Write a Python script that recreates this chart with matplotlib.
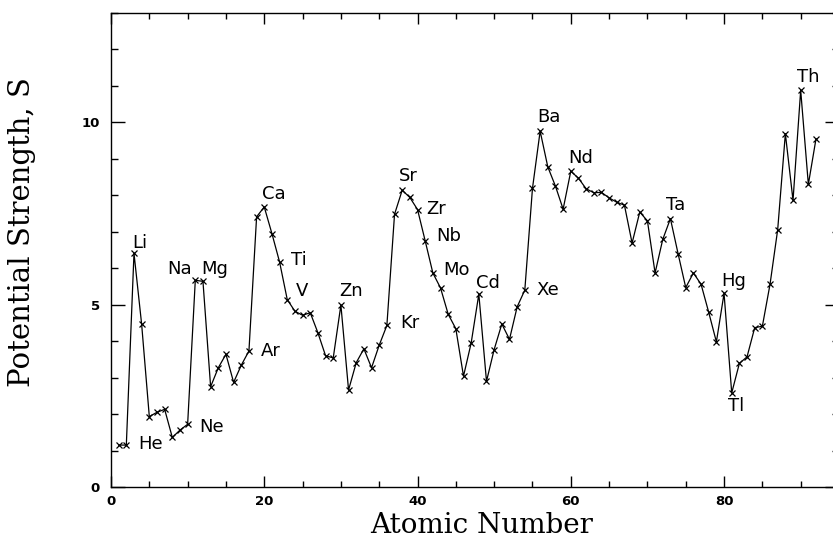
import matplotlib.pyplot as plt
from matplotlib.ticker import MultipleLocator

# atomic number and potential strength
atomic_number = list(range(1, 93))
strength = [
    1.15, 1.15, 6.41, 4.46, 1.93, 2.05, 2.13, 1.36, 1.56, 1.72,
    5.67, 5.64, 2.75, 3.27, 3.64, 2.87, 3.34, 3.73, 7.41, 7.68,
    6.95, 6.17, 5.14, 4.82, 4.71, 4.78, 4.23, 3.60, 3.54, 4.99,
    2.66, 3.41, 3.79, 3.27, 3.89, 4.43, 7.48, 8.14, 7.94, 7.61,
    6.75, 5.87, 5.46, 4.74, 4.34, 3.04, 3.95, 5.29, 2.90, 3.77,
    4.47, 4.05, 4.94, 5.40, 8.19, 9.76, 8.78, 8.25, 7.62, 8.66,
    8.47, 8.18, 8.07, 8.08, 7.93, 7.81, 7.73, 6.69, 7.54, 7.30,
    5.87, 6.79, 7.36, 6.40, 5.47, 5.87, 5.56, 4.79, 3.98, 5.31,
    2.58, 3.39, 3.57, 4.37, 4.41, 5.56, 7.06, 9.69, 7.86, 10.88,
    8.30, 9.55,
]

# labelled elements
label_names = ["He", "Li", "Ne", "Na", "Mg", "Ar", "Ca", "Ti", "V", "Zn",
               "Kr", "Sr", "Zr", "Nb", "Mo", "Cd", "Xe", "Ba", "Nd", "Ta",
               "Hg", "Tl", "Th"]
label_z = [2, 3, 10, 11, 12, 18, 20, 22, 24, 30,
           36, 38, 40, 41, 42, 48, 54, 56, 60, 73,
           80, 81, 90]

# text placement relative to the point: (dx px, dy px, ha, va)
placement = {
    "He": (12, 1, "left", "center"),
    "Li": (-2, 1, "left", "bottom"),
    "Ne": (12, -3, "left", "center"),
    "Na": (-3, 2, "right", "bottom"),
    "Mg": (-2, 3, "left", "bottom"),
    "Ar": (12, 0, "left", "center"),
    "Ca": (-2, 4, "left", "bottom"),
    "Ti": (11, 2, "left", "center"),
    "V": (1, 11, "left", "bottom"),
    "Zn": (-2, 5, "left", "bottom"),
    "Kr": (13, 2, "left", "center"),
    "Sr": (-3, 5, "left", "bottom"),
    "Zr": (9, 1, "left", "center"),
    "Nb": (11, 5, "left", "center"),
    "Mo": (10, 3, "left", "center"),
    "Cd": (-3, 2, "left", "bottom"),
    "Xe": (12, 0, "left", "center"),
    "Ba": (-3, 5, "left", "bottom"),
    "Nd": (-3, 4, "left", "bottom"),
    "Ta": (-4, 5, "left", "bottom"),
    "Hg": (-3, 3, "left", "bottom"),
    "Tl": (-4, -4, "left", "top"),
    "Th": (-4, 4, "left", "bottom"),
}

fig = plt.figure(figsize=(8.33, 5.39), dpi=100)
ax = fig.add_axes([111 / 833, 52 / 539, 728 / 833, 474 / 539])

ax.plot(atomic_number, strength, color="black", linewidth=0.9,
        marker="x", markersize=3.8, markeredgewidth=0.9)

for name, z in zip(label_names, label_z):
    dx, dy, ha, va = placement[name]
    ax.annotate(name, (z, strength[z - 1]), xytext=(dx, dy),
                textcoords="offset pixels", ha=ha, va=va,
                fontsize=13, family="DejaVu Sans", color="black")

ax.set_xlim(0, 95)
ax.set_ylim(0, 13)
ax.xaxis.set_major_locator(MultipleLocator(20))
ax.xaxis.set_minor_locator(MultipleLocator(5))
ax.yaxis.set_major_locator(MultipleLocator(5))
ax.yaxis.set_minor_locator(MultipleLocator(1))

ax.tick_params(which="both", direction="in", top=True, right=True, width=1.0)
ax.tick_params(axis="x", which="major", length=8, pad=6)
ax.tick_params(axis="x", which="minor", length=4)
ax.tick_params(axis="y", which="major", length=10, pad=8)
ax.tick_params(axis="y", which="minor", length=5)
for lab in ax.get_xticklabels() + ax.get_yticklabels():
    lab.set_family("DejaVu Sans")
    lab.set_fontweight("bold")
    lab.set_fontsize(9.5)
for sp in ax.spines.values():
    sp.set_linewidth(1.0)

fig.text(482 / 833, 1 - 533 / 539, "Atomic Number", ha="center",
         va="baseline", fontsize=20, family="DejaVu Serif")
fig.text(22 / 833, 1 - 232 / 539, "Potential Strength, S", ha="center",
         va="center", rotation=90, fontsize=21, family="DejaVu Serif")

fig.savefig("out.png", dpi=100)
